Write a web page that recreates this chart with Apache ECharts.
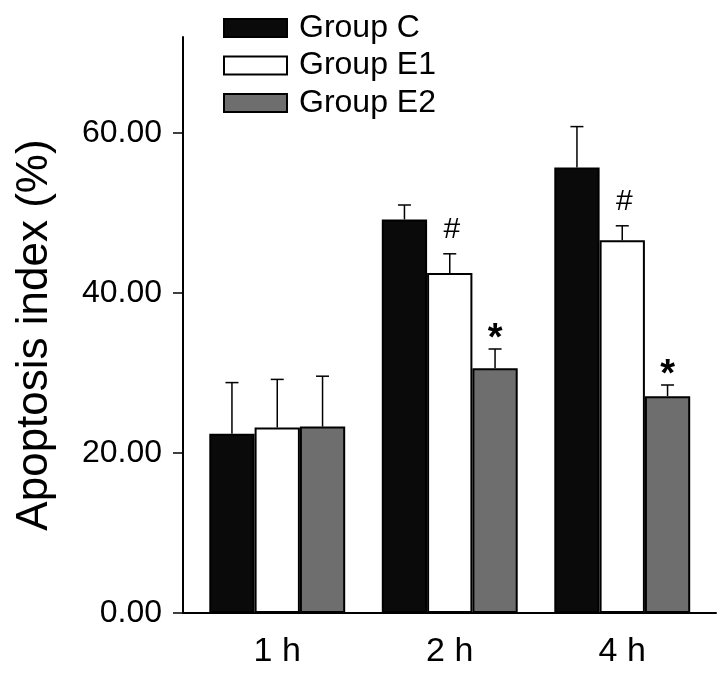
<!DOCTYPE html>
<html>
<head>
<meta charset="utf-8">
<script src="https://cdn.jsdelivr.net/npm/echarts@6/dist/echarts.min.js"></script>
<style>html,body{margin:0;padding:0;background:#fff;}#c{width:724px;height:674px;}</style>
</head>
<body>
<div id="c"></div>
<script>
const categories = ['1 h', '2 h', '4 h'];
const seriesNames = ['Group C', 'Group E1', 'Group E2'];
const groupC = [22.4, 49.2, 55.7];
const groupE1 = [23.2, 42.5, 46.6];
const groupE2 = [23.3, 30.6, 27.1];
const errC = [6.4, 1.8, 5.1];
const errE1 = [6.0, 2.4, 1.8];
const errE2 = [6.3, 2.4, 1.4];
const markC = ['', '', ''];
const markE1 = ['', '#', '#'];
const markE2 = ['', '*', '*'];
const yTicks = [0, 20, 40, 60];
const yMax = 72;

const FONT = '"Liberation Sans", Arial, Helvetica, sans-serif';
const BAR_W = 45.3;
const colors = ['#0a0a0a', '#ffffff', '#6e6e6e'];

function errSeries(idx, means, errs, marks) {
  const data = means.map((m, i) => [i, m, errs[i]]);
  return {
    type: 'custom',
    xAxisIndex: 0, yAxisIndex: 0,
    z: 5,
    silent: true,
    data: data,
    renderItem: function (params, api) {
      const cat = api.value(0), mean = api.value(1), err = api.value(2);
      const mark = marks[params.dataIndex];
      const base = api.coord([cat, mean]);
      const top = api.coord([cat, mean + err]);
      const x = base[0] + (idx - 1) * BAR_W;
      const children = [
        { type: 'line', shape: { x1: x, y1: base[1], x2: x, y2: top[1] }, style: { stroke: '#000', lineWidth: 1.5 } },
        { type: 'line', shape: { x1: x - 6.5, y1: top[1], x2: x + 6.5, y2: top[1] }, style: { stroke: '#000', lineWidth: 1.5 } }
      ];
      if (mark === '#') {
        children.push({ type: 'text', style: { text: '#', x: x + 2, y: top[1] - 24, align: 'center', verticalAlign: 'middle', font: 'normal 30px ' + FONT, fill: '#000' } });
      } else if (mark === '*') {
        children.push({ type: 'text', style: { text: '*', x: x, y: top[1] - 9, align: 'center', verticalAlign: 'middle', font: 'bold 38px ' + FONT, fill: '#000' } });
      }
      return { type: 'group', children: children };
    }
  };
}

function barSeries(i, vals) {
  return {
    name: seriesNames[i],
    type: 'bar',
    xAxisIndex: 0, yAxisIndex: 0,
    barWidth: BAR_W,
    barGap: '0%',
    data: vals,
    itemStyle: { color: colors[i], borderColor: '#000', borderWidth: 2 }
  };
}

const chart = echarts.init(document.getElementById('c'), null, { renderer: 'canvas' });
chart.setOption({
  backgroundColor: '#fff',
  animation: false,
  textStyle: { fontFamily: FONT },
  legend: {
    data: seriesNames,
    orient: 'vertical',
    left: 218, top: 7,
    itemWidth: 63, itemHeight: 18, itemGap: 5.5,
    icon: 'rect',
    textStyle: { fontSize: 32, color: '#000', fontFamily: FONT, padding: [0, 0, 0, 7] }
  },
  grid: [
    { left: 191, right: 15.5, top: 37, bottom: 61, containLabel: false },
    { left: 183, right: 8, top: 37, bottom: 61, containLabel: false }
  ],
  xAxis: [
    {
      type: 'category', gridIndex: 0, data: categories,
      axisLine: { lineStyle: { color: '#000', width: 2 } },
      axisTick: { alignWithLabel: true, length: 10, lineStyle: { color: '#000', width: 1.5 } },
      axisLabel: { fontSize: 34, color: '#000', margin: 22, fontFamily: FONT },
      splitLine: { show: false }
    },
    {
      type: 'value', gridIndex: 1, min: 0, max: 1,
      axisLine: { show: true, lineStyle: { color: '#000', width: 2 } },
      axisTick: { show: false }, axisLabel: { show: false }, splitLine: { show: false }
    }
  ],
  yAxis: [
    {
      type: 'value', gridIndex: 0, min: 0, max: yMax, interval: 20, offset: 8,
      axisLine: { show: true, lineStyle: { color: '#000', width: 2 } },
      axisTick: { show: true, length: 10, customValues: yTicks, lineStyle: { color: '#000', width: 1.5 } },
      axisLabel: { customValues: yTicks, fontSize: 32, color: '#000', margin: 21, fontFamily: FONT,
        formatter: v => Number(v).toFixed(2) },
      splitLine: { show: false },
      name: 'Apoptosis index (%)',
      nameLocation: 'middle', nameRotate: 90, nameGap: 126,
      nameTextStyle: { fontSize: 44, color: '#000', fontFamily: FONT, padding: [0, 20, 0, 0] }
    },
    { type: 'value', gridIndex: 1, show: false, min: 0, max: 1 }
  ],
  series: [
    barSeries(0, groupC),
    barSeries(1, groupE1),
    barSeries(2, groupE2),
    errSeries(0, groupC, errC, markC),
    errSeries(1, groupE1, errE1, markE1),
    errSeries(2, groupE2, errE2, markE2)
  ]
});
</script>
</body>
</html>
